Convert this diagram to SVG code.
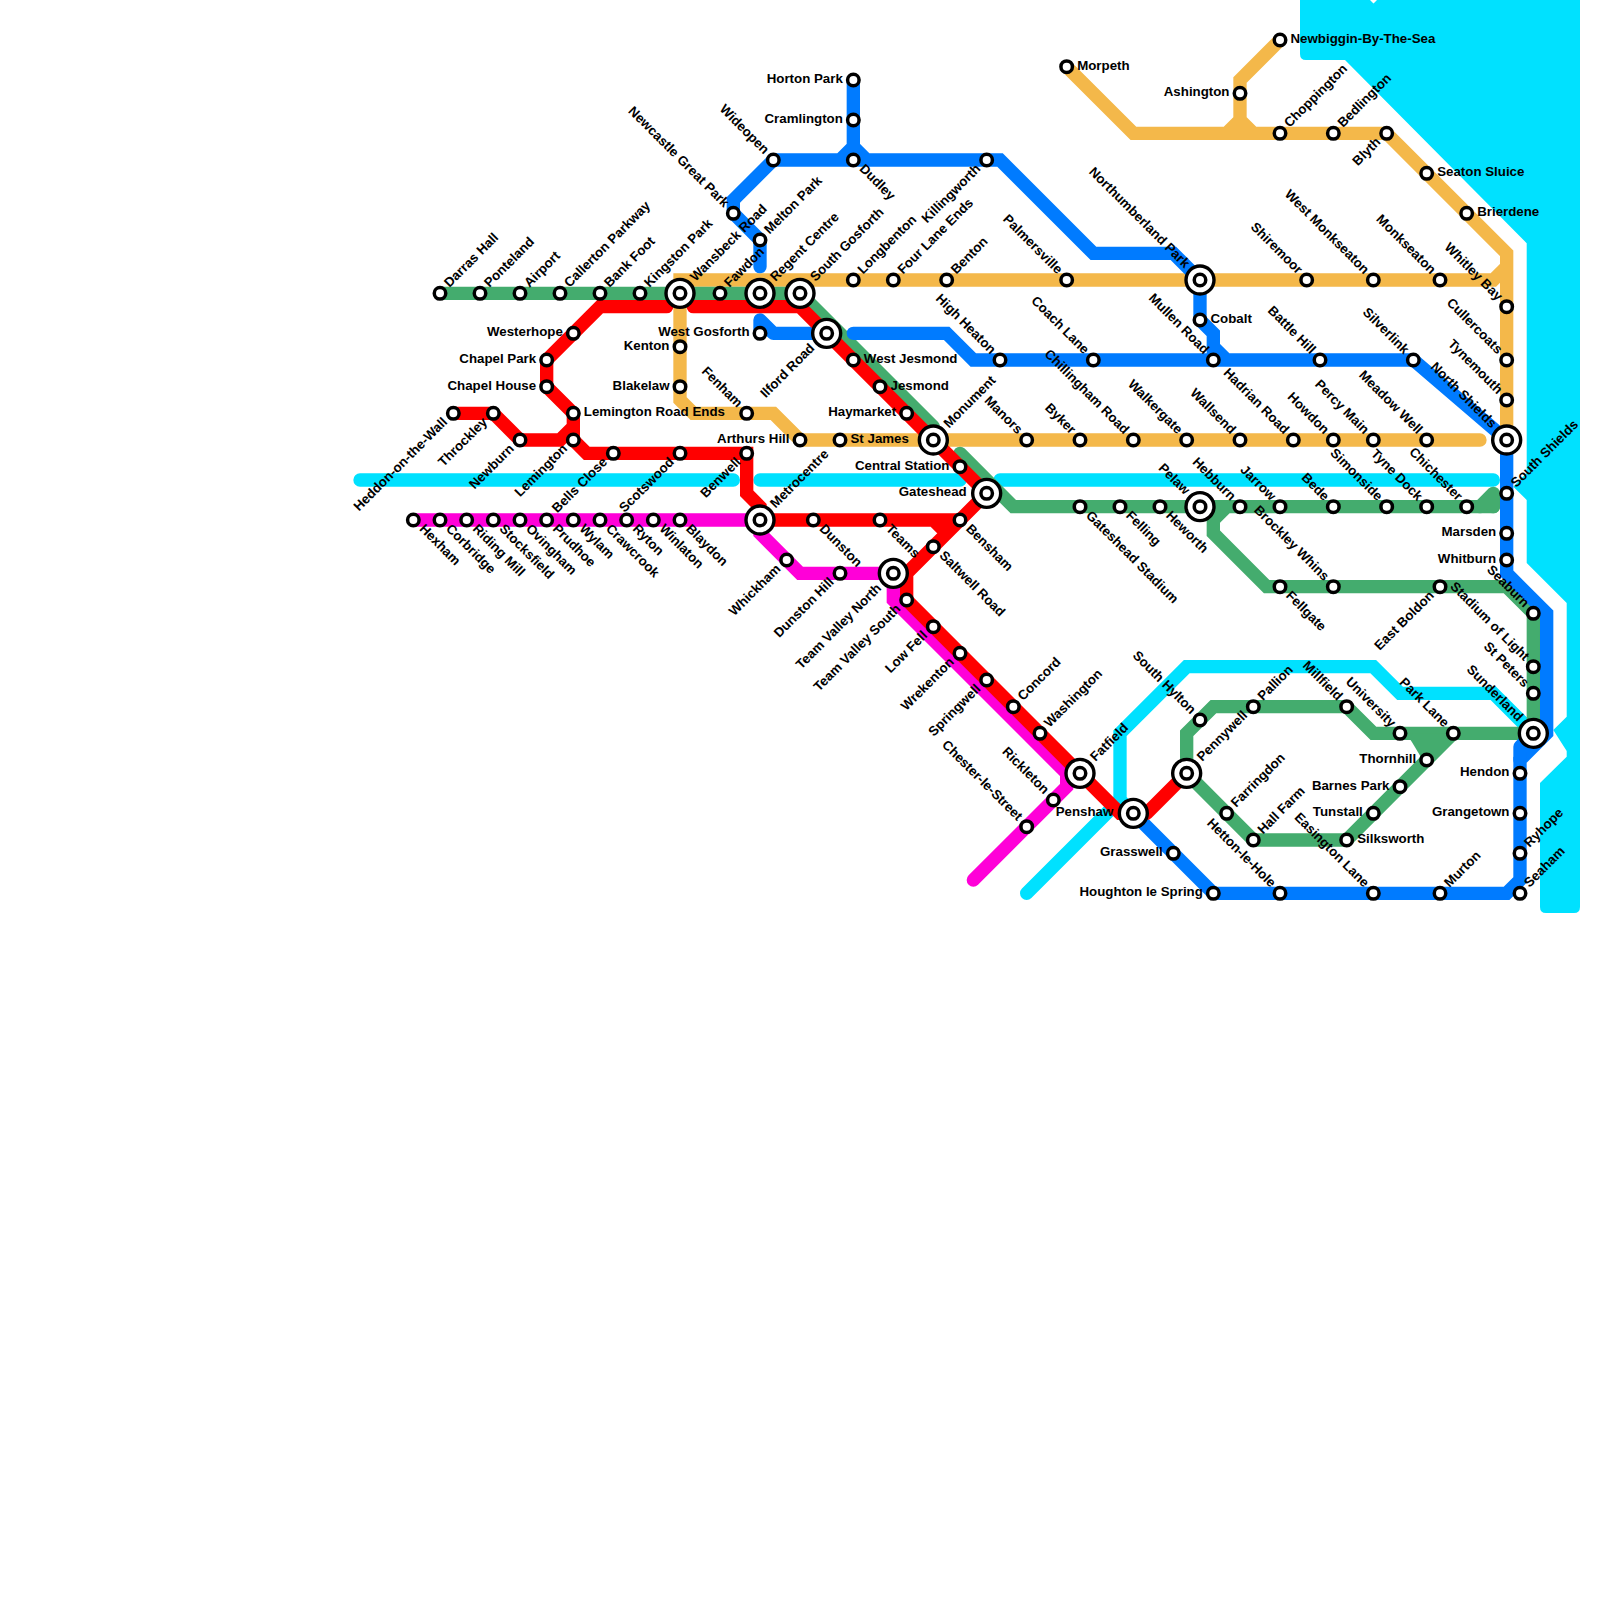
<svg xmlns="http://www.w3.org/2000/svg" width="1600" height="1600" viewBox="0 0 1600 1600">
<style>
text{font-family:"Liberation Sans",Arial,sans-serif;font-weight:700;font-size:13.3px;fill:#000}
.e,.ne,.se{text-anchor:start}
.w,.nw,.sw{text-anchor:end}
.ne,.sw{transform:rotate(-45deg)}
.se,.nw{transform:rotate(45deg)}
#lines path{fill:none;stroke-width:1;stroke-linecap:round;stroke-linejoin:miter;stroke-miterlimit:4}
#lines path.rj{stroke-linejoin:round}
#lines .gr path.fill{fill:#44ac6e;stroke:none}
#lines .re path.fill{fill:#f00;stroke:none}
.cy path{stroke:#00e1ff}.or path{stroke:#f4b84a}.ma path{stroke:#ff00d8}.gr path{stroke:#44ac6e}.bl path{stroke:#007bff}.re path{stroke:#f00}
</style>
<defs>
<circle id="st" r="5.75" fill="#fff" stroke="#000" stroke-width="3.500"/>
<g id="ic"><circle r="14" fill="#fff" stroke="#000" stroke-width="3.4"/><use href="#st"/></g>
</defs>
<path id="sea" fill="#00e1ff" d="M1300 0H1370L1373.500 3.500L1377 0H1580V907Q1580 913 1574 913H1546Q1540 913 1540 907V783L1566.700 756.700V751L1553.300 730L1566.700 716.700V603L1526.700 563V500L1513.300 486.700L1526.700 473V243.300L1345 60H1306Q1300 60 1300 54Z"/>
<g id="lines" transform="scale(13.3333)">
<g class="cy" id="line-cyan"><path d="M27 36H55M57 36H72M75 36H112M77 67L84 60L85 61M84 60V55L89 50H103L105 52H112L115 55"/></g>
<g class="or" id="line-orange"><path d="M113 33V19L104 10H85L80 5M113 20L112 21H51V30L52 31H58L60 33H111M96 3L93 6V9L92 10M93 9L94 10"/></g>
<g class="ma" id="line-magenta"><path d="M31 39H57V40L60 43H67V45L80 58V59L73 66"/></g>
<g class="gr" id="line-green"><path d="M33 22H60L70 32M72 34L76 38H112M92 38L91 39V40L95 44H113L115 46V55H103L101 53H91L89 55V58L94 63H101L109 55M106 55L107 56V57"/><path class="rj" d="M111 38L112 37V38"/><path class="fill" d="M105.500 55H109.500L107 57.500Z"/></g>
<g class="bl" id="line-blue"><path d="M64 6V12M63 12L64 11L65 12M57 20V18L55 16V15L58 12H75L82 19H88L90 21V24L91 25V27M91 26L92 27M64 25H71L73 27H106L113 33V43L116 46V55L114 57V66L113 67H91L85 61"/><path class="rj" d="M57 25V24L58 25H61M115 55L114 56V57"/></g>
<g class="re" id="line-red"><path d="M50 23H45L41 27V29L43 31V33L44 34H56V37L57 38V39M34 31H37L39 33H42L43 32M52 23H60L74 37L68 43V45L84 61H85M86 61L89 58M57 39H72M70 39L71 40"/><path class="fill" d="M69.500 39H72L71 40.500Z"/></g>
</g>
<g id="nodes">
<g id="darras-hall" transform="translate(440,293.33)"><use href="#st"/><text class="ne" x="10.500" y="3">Darras Hall</text></g>
<g id="ponteland" transform="translate(480,293.33)"><use href="#st"/><text class="ne" x="10.500" y="3">Ponteland</text></g>
<g id="airport" transform="translate(520,293.33)"><use href="#st"/><text class="ne" x="10.500" y="3">Airport</text></g>
<g id="callerton-parkway" transform="translate(560,293.33)"><use href="#st"/><text class="ne" x="10.500" y="3">Callerton Parkway</text></g>
<g id="bank-foot" transform="translate(600,293.33)"><use href="#st"/><text class="ne" x="10.500" y="3">Bank Foot</text></g>
<g id="kingston-park" transform="translate(640,293.33)"><use href="#st"/><text class="ne" x="10.500" y="3">Kingston Park</text></g>
<g id="wansbeck-road" transform="translate(680,293.33)"><use href="#ic"/><text class="ne" x="19" y="3">Wansbeck Road</text></g>
<g id="fawdon" transform="translate(720,293.33)"><use href="#st"/><text class="ne" x="10.500" y="3">Fawdon</text></g>
<g id="regent-centre" transform="translate(760,293.33)"><use href="#ic"/><text class="ne" x="19" y="3">Regent Centre</text></g>
<g id="south-gosforth" transform="translate(800,293.33)"><use href="#ic"/><text class="ne" x="19" y="3">South Gosforth</text></g>
<g id="westerhope" transform="translate(573.33,333.33)"><use href="#st"/><text class="w" x="-10.500" y="3">Westerhope</text></g>
<g id="chapel-park" transform="translate(546.67,360)"><use href="#st"/><text class="w" x="-10.500" y="3">Chapel Park</text></g>
<g id="chapel-house" transform="translate(546.67,386.67)"><use href="#st"/><text class="w" x="-10.500" y="3">Chapel House</text></g>
<g id="lemington-road-ends" transform="translate(573.33,413.33)"><use href="#st"/><text class="e" x="10.500" y="3">Lemington Road Ends</text></g>
<g id="lemington" transform="translate(573.33,440)"><use href="#st"/><text class="sw" x="-10.500" y="3">Lemington</text></g>
<g id="newburn" transform="translate(520,440)"><use href="#st"/><text class="sw" x="-10.500" y="3">Newburn</text></g>
<g id="throckley" transform="translate(493.33,413.33)"><use href="#st"/><text class="sw" x="-10.500" y="3">Throckley</text></g>
<g id="heddon-on-the-wall" transform="translate(453.33,413.33)"><use href="#st"/><text class="sw" x="-10.500" y="3">Heddon-on-the-Wall</text></g>
<g id="bells-close" transform="translate(613.33,453.33)"><use href="#st"/><text class="sw" x="-10.500" y="3">Bells Close</text></g>
<g id="scotswood" transform="translate(680,453.33)"><use href="#st"/><text class="sw" x="-10.500" y="3">Scotswood</text></g>
<g id="benwell" transform="translate(746.67,453.33)"><use href="#st"/><text class="sw" x="-10.500" y="3">Benwell</text></g>
<g id="kenton" transform="translate(680,346.67)"><use href="#st"/><text class="w" x="-10.500" y="3">Kenton</text></g>
<g id="blakelaw" transform="translate(680,386.67)"><use href="#st"/><text class="w" x="-10.500" y="3">Blakelaw</text></g>
<g id="fenham" transform="translate(746.67,413.33)"><use href="#st"/><text class="nw" x="-10.500" y="3">Fenham</text></g>
<g id="arthurs-hill" transform="translate(800,440)"><use href="#st"/><text class="w" x="-10.500" y="3">Arthurs Hill</text></g>
<g id="st-james" transform="translate(840,440)"><use href="#st"/><text class="e" x="10.500" y="3">St James</text></g>
<g id="west-gosforth" transform="translate(760,333.33)"><use href="#st"/><text class="w" x="-10.500" y="3">West Gosforth</text></g>
<g id="melton-park" transform="translate(760,240)"><use href="#st"/><text class="ne" x="10.500" y="3">Melton Park</text></g>
<g id="newcastle-great-park" transform="translate(733.33,213.33)"><use href="#st"/><text class="nw" x="-10.500" y="3">Newcastle Great Park</text></g>
<g id="wideopen" transform="translate(773.33,160)"><use href="#st"/><text class="nw" x="-10.500" y="3">Wideopen</text></g>
<g id="horton-park" transform="translate(853.33,80)"><use href="#st"/><text class="w" x="-10.500" y="3">Horton Park</text></g>
<g id="cramlington" transform="translate(853.33,120)"><use href="#st"/><text class="w" x="-10.500" y="3">Cramlington</text></g>
<g id="dudley" transform="translate(853.33,160)"><use href="#st"/><text class="se" x="10.500" y="3">Dudley</text></g>
<g id="killingworth" transform="translate(986.67,160)"><use href="#st"/><text class="sw" x="-10.500" y="3">Killingworth</text></g>
<g id="morpeth" transform="translate(1066.67,66.67)"><use href="#st"/><text class="e" x="10.500" y="3">Morpeth</text></g>
<g id="longbenton" transform="translate(853.33,280)"><use href="#st"/><text class="ne" x="10.500" y="3">Longbenton</text></g>
<g id="four-lane-ends" transform="translate(893.33,280)"><use href="#st"/><text class="ne" x="10.500" y="3">Four Lane Ends</text></g>
<g id="benton" transform="translate(946.67,280)"><use href="#st"/><text class="ne" x="10.500" y="3">Benton</text></g>
<g id="palmersville" transform="translate(1066.67,280)"><use href="#st"/><text class="nw" x="-10.500" y="3">Palmersville</text></g>
<g id="ilford-road" transform="translate(826.67,333.33)"><use href="#ic"/><text class="sw" x="-19" y="3">Ilford Road</text></g>
<g id="west-jesmond" transform="translate(853.33,360)"><use href="#st"/><text class="e" x="10.500" y="3">West Jesmond</text></g>
<g id="jesmond" transform="translate(880,386.67)"><use href="#st"/><text class="e" x="10.500" y="3">Jesmond</text></g>
<g id="haymarket" transform="translate(906.67,413.33)"><use href="#st"/><text class="w" x="-10.500" y="3">Haymarket</text></g>
<g id="high-heaton" transform="translate(1000,360)"><use href="#st"/><text class="nw" x="-10.500" y="3">High Heaton</text></g>
<g id="coach-lane" transform="translate(1093.33,360)"><use href="#st"/><text class="nw" x="-10.500" y="3">Coach Lane</text></g>
<g id="monument" transform="translate(933.33,440)"><use href="#ic"/><text class="ne" x="19" y="3">Monument</text></g>
<g id="manors" transform="translate(1026.67,440)"><use href="#st"/><text class="nw" x="-10.500" y="3">Manors</text></g>
<g id="byker" transform="translate(1080,440)"><use href="#st"/><text class="nw" x="-10.500" y="3">Byker</text></g>
<g id="chillingham-road" transform="translate(1133.33,440)"><use href="#st"/><text class="nw" x="-10.500" y="3">Chillingham Road</text></g>
<g id="walkergate" transform="translate(1186.67,440)"><use href="#st"/><text class="nw" x="-10.500" y="3">Walkergate</text></g>
<g id="wallsend" transform="translate(1240,440)"><use href="#st"/><text class="nw" x="-10.500" y="3">Wallsend</text></g>
<g id="hadrian-road" transform="translate(1293.33,440)"><use href="#st"/><text class="nw" x="-10.500" y="3">Hadrian Road</text></g>
<g id="howdon" transform="translate(1333.33,440)"><use href="#st"/><text class="nw" x="-10.500" y="3">Howdon</text></g>
<g id="percy-main" transform="translate(1373.33,440)"><use href="#st"/><text class="nw" x="-10.500" y="3">Percy Main</text></g>
<g id="meadow-well" transform="translate(1426.67,440)"><use href="#st"/><text class="nw" x="-10.500" y="3">Meadow Well</text></g>
<g id="north-shields" transform="translate(1506.67,440)"><use href="#ic"/><text class="nw" x="-19" y="3">North Shields</text></g>
<g id="central-station" transform="translate(960,466.67)"><use href="#st"/><text class="w" x="-10.500" y="3">Central Station</text></g>
<g id="gateshead" transform="translate(986.67,493.33)"><use href="#ic"/><text class="w" x="-20" y="3">Gateshead</text></g>
<g id="northumberland-park" transform="translate(1200,280)"><use href="#ic"/><text class="nw" x="-19" y="3">Northumberland Park</text></g>
<g id="cobalt" transform="translate(1200,320)"><use href="#st"/><text class="e" x="10.500" y="3">Cobalt</text></g>
<g id="mullen-road" transform="translate(1213.33,360)"><use href="#st"/><text class="nw" x="-10.500" y="3">Mullen Road</text></g>
<g id="battle-hill" transform="translate(1320,360)"><use href="#st"/><text class="nw" x="-10.500" y="3">Battle Hill</text></g>
<g id="silverlink" transform="translate(1413.33,360)"><use href="#st"/><text class="nw" x="-10.500" y="3">Silverlink</text></g>
<g id="shiremoor" transform="translate(1306.67,280)"><use href="#st"/><text class="nw" x="-10.500" y="3">Shiremoor</text></g>
<g id="west-monkseaton" transform="translate(1373.33,280)"><use href="#st"/><text class="nw" x="-10.500" y="3">West Monkseaton</text></g>
<g id="monkseaton" transform="translate(1440,280)"><use href="#st"/><text class="nw" x="-10.500" y="3">Monkseaton</text></g>
<g id="whitley-bay" transform="translate(1506.67,306.67)"><use href="#st"/><text class="nw" x="-10.500" y="3">Whitley Bay</text></g>
<g id="cullercoats" transform="translate(1506.67,360)"><use href="#st"/><text class="nw" x="-10.500" y="3">Cullercoats</text></g>
<g id="tynemouth" transform="translate(1506.67,400)"><use href="#st"/><text class="nw" x="-10.500" y="3">Tynemouth</text></g>
<g id="newbiggin-by-the-sea" transform="translate(1280,40)"><use href="#st"/><text class="e" x="10.500" y="3">Newbiggin-By-The-Sea</text></g>
<g id="ashington" transform="translate(1240,93.33)"><use href="#st"/><text class="w" x="-10.500" y="3">Ashington</text></g>
<g id="choppington" transform="translate(1280,133.33)"><use href="#st"/><text class="ne" x="10.500" y="3">Choppington</text></g>
<g id="bedlington" transform="translate(1333.33,133.33)"><use href="#st"/><text class="ne" x="10.500" y="3">Bedlington</text></g>
<g id="blyth" transform="translate(1386.67,133.33)"><use href="#st"/><text class="sw" x="-10.500" y="3">Blyth</text></g>
<g id="seaton-sluice" transform="translate(1426.67,173.33)"><use href="#st"/><text class="e" x="10.500" y="3">Seaton Sluice</text></g>
<g id="brierdene" transform="translate(1466.67,213.33)"><use href="#st"/><text class="e" x="10.500" y="3">Brierdene</text></g>
<g id="gateshead-stadium" transform="translate(1080,506.67)"><use href="#st"/><text class="se" x="10.500" y="3">Gateshead Stadium</text></g>
<g id="felling" transform="translate(1120,506.67)"><use href="#st"/><text class="se" x="10.500" y="3">Felling</text></g>
<g id="heworth" transform="translate(1160,506.67)"><use href="#st"/><text class="se" x="10.500" y="3">Heworth</text></g>
<g id="pelaw" transform="translate(1200,506.67)"><use href="#ic"/><text class="nw" x="-19" y="3">Pelaw</text></g>
<g id="hebburn" transform="translate(1240,506.67)"><use href="#st"/><text class="nw" x="-10.500" y="3">Hebburn</text></g>
<g id="jarrow" transform="translate(1280,506.67)"><use href="#st"/><text class="nw" x="-10.500" y="3">Jarrow</text></g>
<g id="bede" transform="translate(1333.33,506.67)"><use href="#st"/><text class="nw" x="-10.500" y="3">Bede</text></g>
<g id="simonside" transform="translate(1386.67,506.67)"><use href="#st"/><text class="nw" x="-10.500" y="3">Simonside</text></g>
<g id="tyne-dock" transform="translate(1426.67,506.67)"><use href="#st"/><text class="nw" x="-10.500" y="3">Tyne Dock</text></g>
<g id="chichester" transform="translate(1466.67,506.67)"><use href="#st"/><text class="nw" x="-10.500" y="3">Chichester</text></g>
<g id="south-shields" transform="translate(1506.67,493.33)"><use href="#st"/><text class="ne" x="10.500" y="3">South Shields</text></g>
<g id="marsden" transform="translate(1506.67,533.33)"><use href="#st"/><text class="w" x="-10.500" y="3">Marsden</text></g>
<g id="whitburn" transform="translate(1506.67,560)"><use href="#st"/><text class="w" x="-10.500" y="3">Whitburn</text></g>
<g id="fellgate" transform="translate(1280,586.67)"><use href="#st"/><text class="se" x="10.500" y="3">Fellgate</text></g>
<g id="brockley-whins" transform="translate(1333.33,586.67)"><use href="#st"/><text class="nw" x="-10.500" y="3">Brockley Whins</text></g>
<g id="east-boldon" transform="translate(1440,586.67)"><use href="#st"/><text class="sw" x="-10.500" y="3">East Boldon</text></g>
<g id="seaburn" transform="translate(1533.33,613.33)"><use href="#st"/><text class="nw" x="-10.500" y="3">Seaburn</text></g>
<g id="stadium-of-light" transform="translate(1533.33,666.67)"><use href="#st"/><text class="nw" x="-10.500" y="3">Stadium of Light</text></g>
<g id="st-peters" transform="translate(1533.33,693.33)"><use href="#st"/><text class="nw" x="-10.500" y="3">St Peters</text></g>
<g id="sunderland" transform="translate(1533.33,733.33)"><use href="#ic"/><text class="nw" x="-19" y="3">Sunderland</text></g>
<g id="park-lane" transform="translate(1453.33,733.33)"><use href="#st"/><text class="nw" x="-10.500" y="3">Park Lane</text></g>
<g id="university" transform="translate(1400,733.33)"><use href="#st"/><text class="nw" x="-10.500" y="3">University</text></g>
<g id="millfield" transform="translate(1346.67,706.67)"><use href="#st"/><text class="nw" x="-10.500" y="3">Millfield</text></g>
<g id="pallion" transform="translate(1253.33,706.67)"><use href="#st"/><text class="ne" x="10.500" y="3">Pallion</text></g>
<g id="south-hylton" transform="translate(1200,720)"><use href="#st"/><text class="nw" x="-10.500" y="3">South Hylton</text></g>
<g id="pennywell" transform="translate(1186.67,773.33)"><use href="#ic"/><text class="ne" x="19" y="3">Pennywell</text></g>
<g id="farringdon" transform="translate(1226.67,813.33)"><use href="#st"/><text class="ne" x="10.500" y="3">Farringdon</text></g>
<g id="hall-farm" transform="translate(1253.33,840)"><use href="#st"/><text class="ne" x="10.500" y="3">Hall Farm</text></g>
<g id="silksworth" transform="translate(1346.67,840)"><use href="#st"/><text class="e" x="10.500" y="3">Silksworth</text></g>
<g id="tunstall" transform="translate(1373.33,813.33)"><use href="#st"/><text class="w" x="-10.500" y="3">Tunstall</text></g>
<g id="barnes-park" transform="translate(1400,786.67)"><use href="#st"/><text class="w" x="-10.500" y="3">Barnes Park</text></g>
<g id="thornhill" transform="translate(1426.67,760)"><use href="#st"/><text class="w" x="-10.500" y="3">Thornhill</text></g>
<g id="hendon" transform="translate(1520,773.33)"><use href="#st"/><text class="w" x="-10.500" y="3">Hendon</text></g>
<g id="grangetown" transform="translate(1520,813.33)"><use href="#st"/><text class="w" x="-10.500" y="3">Grangetown</text></g>
<g id="ryhope" transform="translate(1520,853.33)"><use href="#st"/><text class="ne" x="10.500" y="3">Ryhope</text></g>
<g id="seaham" transform="translate(1520,893.33)"><use href="#st"/><text class="ne" x="10.500" y="3">Seaham</text></g>
<g id="murton" transform="translate(1440,893.33)"><use href="#st"/><text class="ne" x="10.500" y="3">Murton</text></g>
<g id="easington-lane" transform="translate(1373.33,893.33)"><use href="#st"/><text class="nw" x="-10.500" y="3">Easington Lane</text></g>
<g id="hetton-le-hole" transform="translate(1280,893.33)"><use href="#st"/><text class="nw" x="-10.500" y="3">Hetton-le-Hole</text></g>
<g id="houghton-le-spring" transform="translate(1213.33,893.33)"><use href="#st"/><text class="w" x="-10.500" y="3">Houghton le Spring</text></g>
<g id="grasswell" transform="translate(1173.33,853.33)"><use href="#st"/><text class="w" x="-10.500" y="3">Grasswell</text></g>
<g id="penshaw" transform="translate(1133.33,813.33)"><use href="#ic"/><text class="w" x="-20" y="3">Penshaw</text></g>
<g id="fatfield" transform="translate(1080,773.33)"><use href="#ic"/><text class="ne" x="19" y="3">Fatfield</text></g>
<g id="washington" transform="translate(1040,733.33)"><use href="#st"/><text class="ne" x="10.500" y="3">Washington</text></g>
<g id="concord" transform="translate(1013.33,706.67)"><use href="#st"/><text class="ne" x="10.500" y="3">Concord</text></g>
<g id="springwell" transform="translate(986.67,680)"><use href="#st"/><text class="sw" x="-10.500" y="3">Springwell</text></g>
<g id="wrekenton" transform="translate(960,653.33)"><use href="#st"/><text class="sw" x="-10.500" y="3">Wrekenton</text></g>
<g id="low-fell" transform="translate(933.33,626.67)"><use href="#st"/><text class="sw" x="-10.500" y="3">Low Fell</text></g>
<g id="team-valley-south" transform="translate(906.67,600)"><use href="#st"/><text class="sw" x="-10.500" y="3">Team Valley South</text></g>
<g id="team-valley-north" transform="translate(893.33,573.33)"><use href="#ic"/><text class="sw" x="-19" y="3">Team Valley North</text></g>
<g id="saltwell-road" transform="translate(933.33,546.67)"><use href="#st"/><text class="se" x="10.500" y="3">Saltwell Road</text></g>
<g id="bensham" transform="translate(960,520)"><use href="#st"/><text class="se" x="10.500" y="3">Bensham</text></g>
<g id="teams" transform="translate(880,520)"><use href="#st"/><text class="se" x="10.500" y="3">Teams</text></g>
<g id="dunston" transform="translate(813.33,520)"><use href="#st"/><text class="se" x="10.500" y="3">Dunston</text></g>
<g id="dunston-hill" transform="translate(840,573.33)"><use href="#st"/><text class="sw" x="-10.500" y="3">Dunston Hill</text></g>
<g id="whickham" transform="translate(786.67,560)"><use href="#st"/><text class="sw" x="-10.500" y="3">Whickham</text></g>
<g id="metrocentre" transform="translate(760,520)"><use href="#ic"/><text class="ne" x="19" y="3">Metrocentre</text></g>
<g id="rickleton" transform="translate(1053.33,800)"><use href="#st"/><text class="nw" x="-10.500" y="3">Rickleton</text></g>
<g id="chester-le-street" transform="translate(1026.67,826.67)"><use href="#st"/><text class="nw" x="-10.500" y="3">Chester-le-Street</text></g>
<g id="hexham" transform="translate(413.33,520)"><use href="#st"/><text class="se" x="10.500" y="3">Hexham</text></g>
<g id="corbridge" transform="translate(440,520)"><use href="#st"/><text class="se" x="10.500" y="3">Corbridge</text></g>
<g id="riding-mill" transform="translate(466.67,520)"><use href="#st"/><text class="se" x="10.500" y="3">Riding Mill</text></g>
<g id="stocksfield" transform="translate(493.33,520)"><use href="#st"/><text class="se" x="10.500" y="3">Stocksfield</text></g>
<g id="ovingham" transform="translate(520,520)"><use href="#st"/><text class="se" x="10.500" y="3">Ovingham</text></g>
<g id="prudhoe" transform="translate(546.67,520)"><use href="#st"/><text class="se" x="10.500" y="3">Prudhoe</text></g>
<g id="wylam" transform="translate(573.33,520)"><use href="#st"/><text class="se" x="10.500" y="3">Wylam</text></g>
<g id="crawcrook" transform="translate(600,520)"><use href="#st"/><text class="se" x="10.500" y="3">Crawcrook</text></g>
<g id="ryton" transform="translate(626.67,520)"><use href="#st"/><text class="se" x="10.500" y="3">Ryton</text></g>
<g id="winlaton" transform="translate(653.33,520)"><use href="#st"/><text class="se" x="10.500" y="3">Winlaton</text></g>
<g id="blaydon" transform="translate(680,520)"><use href="#st"/><text class="se" x="10.500" y="3">Blaydon</text></g>
</g>
</svg>
